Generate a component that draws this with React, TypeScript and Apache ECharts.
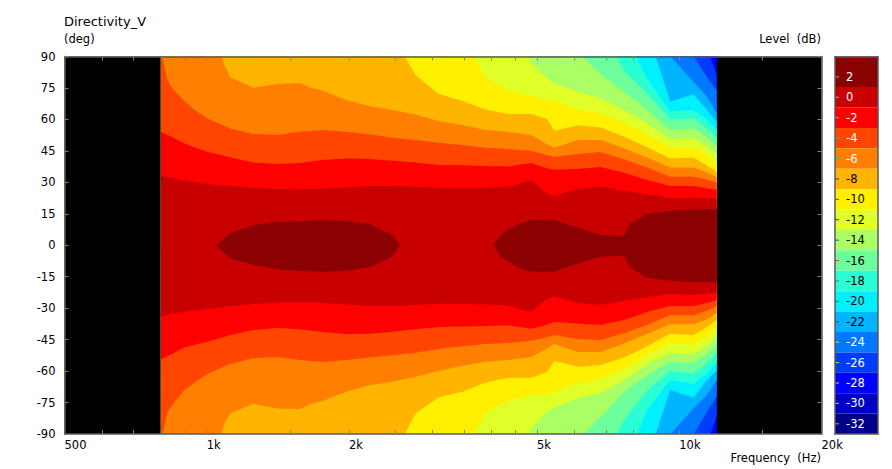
import React, { useEffect, useRef } from "react";
import * as echarts from "echarts";

const FONT = "DejaVu Sans";
const FONT_SIZE = 11.5;
const TITLE_SIZE = 13;

const frequencies = [800, 827, 850, 895, 948, 1002, 1093, 1122, 1256, 1406, 1574, 1660, 1762, 1972, 2208, 2471, 2766, 3097, 3466, 3880, 4344, 4862, 5250, 5443, 6093, 6820, 7635, 8546, 9567, 10709, 11450, 12000];
const N = null;
const blank = (n: number) => new Array(n).fill(N);

// Upper and lower edge (deg) of the area at or above each level; null = beyond the plot.
const upM26 = [...blank(29), 109, 94.1, 81.2];
const loM26 = [...blank(29), -108.8, -94.3, -81.8];
const upM24 = [...blank(28), 109, 90.4, 80.1, 74];
const loM24 = [...blank(28), -108.8, -90.5, -79.4, -72.2];
const upM22 = [...blank(27), 109, 90.2, 78, 70.8, 62.9];
const loM22 = [...blank(27), -112, -90.3, -77.8, -71.4, -64];
const upM20 = [...blank(27), 103, 68.5, 72, 64.5, 58.9];
const loM20 = [...blank(27), -102.8, -69, -72.7, -64.3, -59.8];
const upM18 = [...blank(26), 101.1, 79.6, 63.7, 64.5, 59.8, 54.9];
const loM18 = [...blank(26), -106.4, -78.6, -64.3, -66.2, -61.2, -56];
const upM16 = [...blank(25), 105.8, 83.3, 72.4, 60, 60.5, 55.7, 51];
const loM16 = [...blank(25), -105.6, -83.4, -69.1, -59.8, -61.1, -56.4, -51.6];
const upM14 = [...blank(23), 105.8, 92.3, 81.7, 73.2, 64.5, 54.9, 55.7, 51.5, 47];
const loM14 = [...blank(23), -108.8, -92.9, -81.8, -69.8, -61.9, -55.5, -56.3, -52, -47.6];
const upM12 = [...blank(20), 114.6, 86.7, 79.6, 77.2, 73.2, 70.1, 64.5, 58.1, 50.5, 51, 47.2, 43];
const loM12 = [...blank(20), -118.8, -87.3, -79.1, -77.5, -73, -70.3, -64.3, -56.6, -51.2, -51.9, -48, -43.6];
const upM10 = [...blank(18), 101.2, 80.4, 73.7, 71.2, 69.3, 68.9, 64.8, 62.9, 58.4, 52.9, 46.2, 46.7, 43, 39];
const loM10 = [...blank(18), -101.8, -80.2, -74.1, -71.8, -70.8, -70.3, -65.6, -64, -58.7, -52.4, -46.6, -47.6, -43.5, -39.6];
const upM8 = [...blank(15), 99.8, 81.2, 72.1, 68.9, 64.8, 62.6, 62.6, 60.2, 54.6, 57.2, 56.2, 51.8, 46.7, 41.4, 41.9, 38, 35.1];
const loM8 = [...blank(15), -101.2, -80.2, -72.5, -70, -65.6, -63.2, -63.2, -60.6, -55.2, -57.9, -57.1, -53.5, -48.1, -42.2, -42.8, -39, -35.7];
const upM6 = [...blank(5), 108.8, 85.2, 80.1, 75.1, 76.9, 77.4, 75.1, 73.7, 69.3, 66.4, 64.5, 62.4, 59.2, 57.3, 54.9, 54.1, 52.6, 48.1, 46.5, 50.2, 50.2, 46.2, 41.9, 37.1, 37.1, 34.8, 32.4];
const loM6 = [...blank(5), -108.9, -84.2, -80.2, -75.6, -77.8, -78.1, -75.6, -74.1, -69.8, -66.7, -65.1, -62.7, -60, -57.6, -55.5, -54.7, -53.3, -49.2, -47.1, -50.9, -50.9, -46.8, -42.3, -37.7, -37.7, -35.3, -32.2];
const upM4 = [92, 78.3, 74, 68.9, 64, 60.5, 56.9, 55.7, 53, 52.6, 54.1, 54.5, 54.9, 54.1, 52.9, 51.3, 50.2, 48.9, 47.8, 46.5, 45.9, 44.9, 43, 42.2, 43.5, 44.5, 41, 37.1, 32.7, 32.7, 31.2, 29.8];
const loM4 = [-93.5, -79.4, -75.4, -69.2, -65.1, -61.4, -57.6, -56.6, -53.8, -53.3, -54.7, -55.2, -55.7, -54.7, -53.5, -52.4, -51.2, -49.5, -48.1, -47.1, -46.6, -45.5, -43.9, -42.8, -44.7, -45.2, -42, -38, -33.4, -33.4, -31.2, -29];
const upM2 = [54.1, 52.6, 51.3, 48.6, 46.5, 44.6, 42.6, 41.9, 39.5, 38.7, 39.2, 39.9, 40.6, 41.4, 41.1, 40.3, 39.4, 38.3, 38.1, 37.8, 37.5, 39.2, 36.7, 36, 36.3, 37.3, 34.6, 31.1, 28.2, 28.2, 27.2, 26.3];
const loM2 = [-54.4, -52.8, -51.5, -48.7, -47.3, -46, -43.6, -42.8, -40.4, -39.5, -40.1, -40.7, -41.4, -42.3, -42.2, -41.2, -40.1, -39, -38.8, -38.5, -38.2, -39.8, -37.9, -36.6, -37.3, -38, -35.7, -31.8, -29, -29, -27.5, -26.1];
const up0 = [33, 32.4, 31.9, 30.8, 30, 29.2, 28.4, 28.2, 27.3, 26.8, 26.6, 26.8, 27, 27.4, 28.2, 28.2, 27.9, 27.4, 27.3, 27.4, 27.8, 31.1, 24.6, 23.5, 26.8, 27.9, 26, 24.3, 22.5, 22.8, 22.5, 22.2];
const lo0 = [-33.8, -33.1, -32.6, -31.7, -31, -30.4, -29.3, -29, -28, -27.4, -27.1, -27.3, -27.5, -28.3, -28.8, -29, -28.5, -27.9, -28, -28.2, -28.7, -31.7, -25.5, -24.4, -27.4, -28.5, -26.6, -24.8, -23.3, -23.7, -23.1, -22.6];

// The two islands of the top band.
const lobeAFreq = [1046, 1122, 1256, 1406, 1574, 1762, 1972, 2208, 2471, 2565];
const lobeAUp = [0, 5.7, 9.6, 11.2, 11.5, 12, 11.4, 10.1, 4.9, 0];
const lobeALo = [0, -6.2, -9.4, -11.5, -12.3, -12.6, -12.3, -10.5, -5.5, 0];
const lobeBFreq = [4035, 4190, 4344, 4590, 4862, 5443, 6093, 6820, 7635, 7868, 8546, 9567, 10709, 12000];
const lobeBUp = [0, 4.9, 7.3, 10.1, 12, 12, 8.4, 4.9, 4.4, 10.1, 14.9, 16.5, 17.1, 17.3];
const lobeBLo = [0, -5.5, -7.8, -11, -12.6, -12.6, -8.6, -5.5, -5.1, -10.5, -15.5, -16.9, -17.7, -17.7];

const legendLevels = [2, 0, -2, -4, -6, -8, -10, -12, -14, -16, -18, -20, -22, -24, -26, -28, -30, -32];
const legendEdges = [4, 1, -1, -3, -5, -7, -9, -11, -13, -15, -17, -19, -21, -23, -25, -27, -29, -31, -33];
const legendColors = ["#8b0000", "#c80000", "#ff0000", "#ff4500", "#ff7f00", "#ffb400", "#fff000", "#e0ff28", "#aaff64", "#6cff9c", "#2affd4", "#00f0ff", "#00b4ff", "#0078ff", "#003cff", "#0000ff", "#0000c8", "#00008b"];
const legendTickColors = ["#40d0c8", "#40d0c8", "#40d0c8", "#40c0b8", "#40b0b0", "#503090", "#4040c0", "#3030d0", "#2040e0", "#e04010", "#a05050", "#b04040", "#902040", "#e0e030", "#d0e020", "#c0e030", "#c0d030", "#b0c830"];
const legendDarkLabels = [-8, -10, -12, -14, -16, -18, -20, -22];

const xTicks = [600, 700, 800, 900, 1000, 1500, 2000, 2500, 3000, 3500, 4000, 4500, 5000, 6000, 7000, 8000, 9000, 10000, 15000];
const xLabels = [500, 1000, 2000, 5000, 10000, 20000];
const xLabelText: Record<number, string> = { 500: "500", 1000: "1k", 2000: "2k", 5000: "5k", 10000: "10k", 20000: "20k" };

const FRAME = "#5a5a5a";
const OUTSIDE = 130;

type Area = { color: string; freq: number[]; up: (number | null)[]; lo: (number | null)[] };
const areas: Area[] = [
  { color: "#0000ff", freq: frequencies, up: frequencies.map(() => null), lo: frequencies.map(() => null) },
  { color: "#003cff", freq: frequencies, up: upM26, lo: loM26 },
  { color: "#0078ff", freq: frequencies, up: upM24, lo: loM24 },
  { color: "#00b4ff", freq: frequencies, up: upM22, lo: loM22 },
  { color: "#00f0ff", freq: frequencies, up: upM20, lo: loM20 },
  { color: "#2affd4", freq: frequencies, up: upM18, lo: loM18 },
  { color: "#6cff9c", freq: frequencies, up: upM16, lo: loM16 },
  { color: "#aaff64", freq: frequencies, up: upM14, lo: loM14 },
  { color: "#e0ff28", freq: frequencies, up: upM12, lo: loM12 },
  { color: "#fff000", freq: frequencies, up: upM10, lo: loM10 },
  { color: "#ffb400", freq: frequencies, up: upM8, lo: loM8 },
  { color: "#ff7f00", freq: frequencies, up: upM6, lo: loM6 },
  { color: "#ff4500", freq: frequencies, up: upM4, lo: loM4 },
  { color: "#ff0000", freq: frequencies, up: upM2, lo: loM2 },
  { color: "#c80000", freq: frequencies, up: up0, lo: lo0 },
  { color: "#8b0000", freq: lobeAFreq, up: lobeAUp, lo: lobeALo },
  { color: "#8b0000", freq: lobeBFreq, up: lobeBUp, lo: lobeBLo },
];

const axisLine = { show: true, onZero: false, lineStyle: { color: FRAME, width: 1.5 } };
const tick = { show: true, inside: true, length: 4, lineStyle: { color: "#808080", width: 1 } };
const labelStyle = { color: "#000000", fontFamily: FONT, fontSize: FONT_SIZE };

export default function App() {
  const ref = useRef<HTMLDivElement>(null);
  useEffect(() => {
    document.body.style.margin = "0";
    const chart = echarts.init(ref.current!, null, { renderer: "svg" });
    const text = (x: number, y: number, t: string, align: string = "left", size: number = FONT_SIZE) => ({
      type: "text", x, y, silent: true,
      style: { text: t, fill: "#000000", font: `${size}px "${FONT}"`, textAlign: align, textVerticalAlign: "middle" },
    });
    chart.setOption({
      animation: false,
      backgroundColor: "#ffffff",
      grid: [
        { left: 64.5, top: 56.5, width: 757, height: 377.5, show: true, backgroundColor: "#000000", borderWidth: 0 },
        { left: 835, top: 56.5, width: 43, height: 377.5, show: false },
      ],
      xAxis: [
        {
          type: "log", gridIndex: 0, position: "bottom", min: 500, max: 20000, logBase: 10, z: 10,
          axisLine, splitLine: { show: false }, minorTick: { show: false },
          axisTick: { ...tick, customValues: xTicks },
          axisLabel: { ...labelStyle, align: "left", margin: 5, customValues: xLabels, formatter: (v: number) => xLabelText[Math.round(v)] ?? "" },
        },
        {
          type: "log", gridIndex: 0, position: "top", min: 500, max: 20000, logBase: 10, z: 10,
          axisLine, splitLine: { show: false }, minorTick: { show: false },
          axisTick: { ...tick, customValues: xTicks }, axisLabel: { show: false },
        },
        {
          type: "value", gridIndex: 1, position: "bottom", min: 0, max: 1, z: 10,
          axisLine, axisTick: { show: false }, axisLabel: { show: false }, splitLine: { show: false },
        },
        {
          type: "value", gridIndex: 1, position: "top", min: 0, max: 1, z: 10,
          axisLine, axisTick: { show: false }, axisLabel: { show: false }, splitLine: { show: false },
        },
      ],
      yAxis: [
        {
          type: "value", gridIndex: 0, position: "left", min: -90, max: 90, interval: 15, z: 10,
          axisLine, axisTick: tick, splitLine: { show: false },
          axisLabel: { ...labelStyle, margin: 9 },
        },
        {
          type: "value", gridIndex: 0, position: "right", min: -90, max: 90, interval: 15, z: 10,
          axisLine, axisTick: tick, axisLabel: { show: false }, splitLine: { show: false },
        },
        {
          type: "value", gridIndex: 1, position: "left", min: -33, max: 4, z: 10,
          axisLine, axisTick: { show: false }, splitLine: { show: false },
          axisLabel: {
            ...labelStyle, inside: true, align: "left", margin: 11, customValues: legendLevels,
            color: (v: number) => (legendDarkLabels.includes(Number(v)) ? "#000000" : "#ffffff"),
          },
        },
        {
          type: "value", gridIndex: 1, position: "right", min: -33, max: 4, z: 10,
          axisLine, axisTick: { show: false }, axisLabel: { show: false }, splitLine: { show: false },
        },
      ],
      series: [
        {
          type: "custom", xAxisIndex: 0, yAxisIndex: 0, clip: true, coordinateSystem: "cartesian2d",
          data: areas.map((_, i) => [i]), silent: true, encode: { x: -1, y: -1 },
          renderItem: (_p: unknown, api: any) => {
            const a = areas[api.value(0)];
            const upper = a.freq.map((f, i) => api.coord([f, a.up[i] ?? OUTSIDE]));
            const lower = a.freq.map((f, i) => api.coord([f, a.lo[i] ?? -OUTSIDE]));
            return {
              type: "polygon",
              shape: { points: [...upper, ...lower.reverse()] },
              style: { fill: a.color, stroke: null },
            };
          },
        },
        {
          type: "custom", xAxisIndex: 2, yAxisIndex: 2, coordinateSystem: "cartesian2d",
          data: legendLevels.map((_, i) => [i]), silent: true, encode: { x: -1, y: -1 },
          renderItem: (_p: unknown, api: any) => {
            const i = api.value(0);
            const a = api.coord([0, legendEdges[i]]);
            const b = api.coord([1, legendEdges[i + 1]]);
            const t = api.coord([0, legendLevels[i]]);
            return {
              type: "group",
              children: [
                { type: "rect", shape: { x: a[0], y: a[1], width: b[0] - a[0], height: b[1] - a[1] }, style: { fill: legendColors[i] } },
                { type: "line", shape: { x1: t[0], y1: t[1], x2: t[0] + 4, y2: t[1] }, style: { stroke: legendTickColors[i], lineWidth: 1 } },
              ],
            };
          },
        },
      ],
      graphic: [
        text(64, 21, "Directivity_V", "left", TITLE_SIZE),
        text(64, 39, "(deg)"),
        text(821, 39, "Level  (dB)", "right"),
        text(821, 458, "Frequency  (Hz)", "right"),
      ],
    });
    return () => chart.dispose();
  }, []);
  return <div ref={ref} style={{ width: 892, height: 469 }} />;
}
